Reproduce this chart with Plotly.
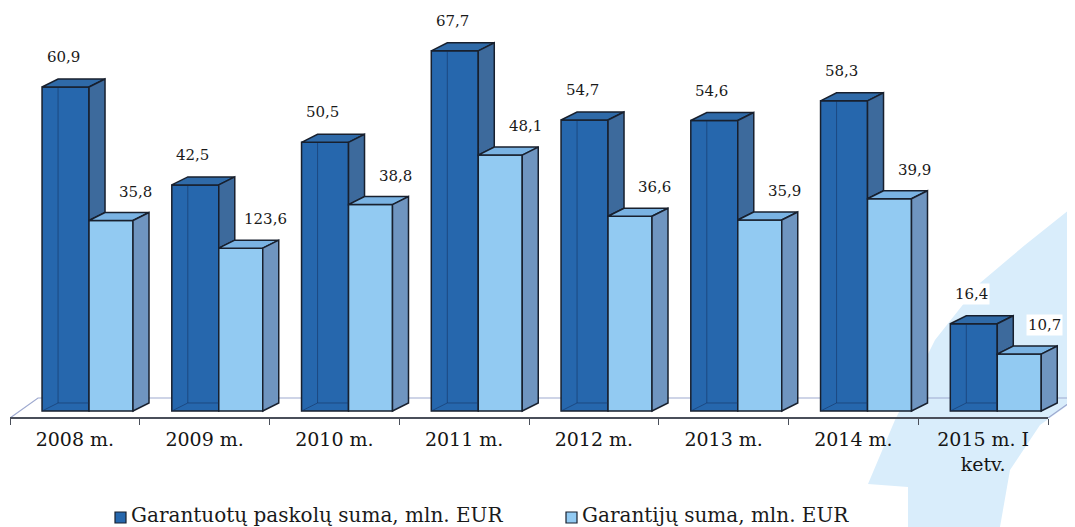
import plotly.graph_objects as go

# ---------------- data ----------------
categories = ["2008 m.", "2009 m.", "2010 m.", "2011 m.", "2012 m.",
              "2013 m.", "2014 m.", "2015 m. I<br>ketv."]
loans = [60.9, 42.5, 50.5, 67.7, 54.7, 54.6, 58.3, 16.4]
guarantees = [35.8, 30.6, 38.8, 48.1, 36.6, 35.9, 39.9, 10.7]
loan_labels = ["60,9", "42,5", "50,5", "67,7", "54,7", "54,6", "58,3", "16,4"]
guarantee_labels = ["35,8", "123,6", "38,8", "48,1", "36,6", "35,9", "39,9", "10,7"]
series_names = ["Garantuotų paskolų suma, mln. EUR", "Garantijų suma, mln. EUR"]

# ---------------- geometry / style ----------------
PAGE_OFF = 8                 # browser default body margin
W, H = 1075 - PAGE_OFF, 527 - PAGE_OFF
ML, MT = 10 - PAGE_OFF, 10 - PAGE_OFF
PW, PH = 1065, 408
PX_PER_CAT = 129.75
PX_PER_UNIT = 5.32
X0 = -0.5
X1 = X0 + PW / PX_PER_CAT
Y0 = -1.32
Y1 = Y0 + PH / PX_PER_UNIT

DX = 16 / PX_PER_CAT      # bar depth (x)
DY = 8 / PX_PER_UNIT      # bar depth (y)
FDX = 28 / PX_PER_CAT     # floor depth
FDY = 20 / PX_PER_UNIT

D_OFF, D_W = -0.253, 0.362
L_W = 0.339

C_DARK = "#2667ad"
C_DARK_TOP = "#2f6aa8"
C_DARK_SIDE = "#3d6a9c"
C_LIGHT = "#92caf2"
C_LIGHT_TOP = "#7ab3e3"
C_LIGHT_SIDE = "#6f95c0"
C_EDGE = "#18202e"
FONT = "DejaVu Serif"

xs = list(range(len(categories)))

fig = go.Figure()
fig.add_trace(go.Bar(x=xs, y=loans, name=series_names[0], offset=D_OFF, width=D_W,
                     marker=dict(color=C_DARK, line=dict(color=C_EDGE, width=1.5)),
                     hoverinfo="skip"))
fig.add_trace(go.Bar(x=xs, y=guarantees, name=series_names[1], offset=D_OFF + D_W, width=L_W,
                     marker=dict(color=C_LIGHT, line=dict(color=C_EDGE, width=1.5)),
                     hoverinfo="skip"))


def poly(pts):
    return "M " + " L ".join(f"{x},{y}" for x, y in pts) + " Z"


def to_paper(px, py):
    # px, py given in page pixels
    px -= PAGE_OFF
    py -= PAGE_OFF
    return (px - ML) / PW, (MT + PH - py) / PH


shapes = []

# watermark (decorative background swoosh)
wm_px = [(908, 527), (908, 487), (868, 484), (895, 420), (935, 340), (980, 283),
         (1025, 245), (1075, 205), (1075, 400), (1040, 425), (1010, 470), (1000, 527)]
shapes.append(dict(type="path", xref="paper", yref="paper", layer="below",
                   path=poly([to_paper(*p) for p in wm_px]),
                   fillcolor="#d9edfb", line=dict(width=0)))

# floor
floor = [(X0, Y0), (7.5, Y0), (7.5 + FDX, Y0 + FDY), (X0 + FDX, Y0 + FDY)]
shapes.append(dict(type="path", xref="x", yref="y", layer="below", path=poly(floor),
                   fillcolor="rgba(255,255,255,0)", line=dict(color="#9ea9cf", width=1.2)))
# floor front edge (axis line)
shapes.append(dict(type="line", xref="paper", yref="paper",
                   x0=0, x1=(7.5 - X0) / (X1 - X0), y0=0, y1=0,
                   line=dict(color="#4a4f5a", width=2)))

for i, (v, l) in enumerate(zip(loans, guarantees)):
    xl = i + D_OFF
    xr = xl + D_W
    xlr = xr + L_W
    # inner back edges seen through the dark bar
    shapes.append(dict(type="path", xref="x", yref="y", layer="above",
                       path=f"M {xl + DX},{v + DY} L {xl + DX},{DY} L {xr},{DY}",
                       line=dict(color="rgba(20,50,95,0.55)", width=1)))
    shapes.append(dict(type="line", xref="x", yref="y", layer="above",
                       x0=xl, y0=0, x1=xl + DX, y1=DY,
                       line=dict(color="rgba(20,50,95,0.55)", width=1)))
    # dark top
    shapes.append(dict(type="path", xref="x", yref="y", layer="above",
                       path=poly([(xl, v), (xr, v), (xr + DX, v + DY), (xl + DX, v + DY)]),
                       fillcolor=C_DARK_TOP, line=dict(color=C_EDGE, width=1.5)))
    # dark side (visible above the light bar)
    shapes.append(dict(type="path", xref="x", yref="y", layer="above",
                       path=poly([(xr, v), (xr + DX, v + DY), (xr + DX, l + DY), (xr, l)]),
                       fillcolor=C_DARK_SIDE, line=dict(color=C_EDGE, width=1.5)))
    # light top
    shapes.append(dict(type="path", xref="x", yref="y", layer="above",
                       path=poly([(xr, l), (xlr, l), (xlr + DX, l + DY), (xr + DX, l + DY)]),
                       fillcolor=C_LIGHT_TOP, line=dict(color=C_EDGE, width=1.5)))
    # light side
    shapes.append(dict(type="path", xref="x", yref="y", layer="above",
                       path=poly([(xlr, l), (xlr + DX, l + DY), (xlr + DX, DY), (xlr, 0)]),
                       fillcolor=C_LIGHT_SIDE, line=dict(color=C_EDGE, width=1.5)))

annotations = []
for i, (v, l) in enumerate(zip(loans, guarantees)):
    annotations.append(dict(x=i - 0.091, y=v, xref="x", yref="y", text=loan_labels[i],
                            showarrow=False, yshift=30, bgcolor="white",
                            font=dict(family=FONT, size=15, color="#1a1a1a")))
    annotations.append(dict(x=i + 0.471, y=l, xref="x", yref="y", text=guarantee_labels[i],
                            showarrow=False, yshift=29, bgcolor="white",
                            font=dict(family=FONT, size=15, color="#1a1a1a")))

# manual legend (square swatch right next to the text, as in the original)
legend_items = [(series_names[0], C_DARK, 115), (series_names[1], C_LIGHT, 566)]
for name, col, sx in legend_items:
    x0p, y0p = to_paper(sx, 523)
    x1p, y1p = to_paper(sx + 11, 512)
    shapes.append(dict(type="rect", xref="paper", yref="paper",
                       x0=x0p, x1=x1p, y0=y0p, y1=y1p,
                       fillcolor=col, line=dict(color=C_EDGE, width=1.2)))
    tx, ty = to_paper(sx + 14, 515)
    annotations.append(dict(x=tx, y=ty, xref="paper", yref="paper", text=name,
                            xanchor="left", yanchor="middle", showarrow=False,
                            font=dict(family=FONT, size=20, color="#1a1a1a")))

fig.update_layout(
    width=W, height=H,
    margin=dict(l=ML, r=W - ML - PW, t=MT, b=H - MT - PH, autoexpand=False),
    paper_bgcolor="white", plot_bgcolor="rgba(0,0,0,0)",
    barmode="overlay",
    showlegend=False,
    xaxis=dict(range=[X0, X1], tickvals=xs, ticktext=categories, ticks="",
               showline=False, showgrid=False, zeroline=False,
               tickfont=dict(family=FONT, size=19, color="#151515"),
               ticklabelstandoff=8,
               minor=dict(tickvals=[k - 0.5 for k in range(len(categories) + 1)],
                          ticks="outside", ticklen=6, tickwidth=1.2, tickcolor="#4a4f5a",
                          showgrid=False)),
    yaxis=dict(range=[Y0, Y1], visible=False, showgrid=False, zeroline=False),
    shapes=shapes,
    annotations=annotations,
)

fig.write_html("out.html")
